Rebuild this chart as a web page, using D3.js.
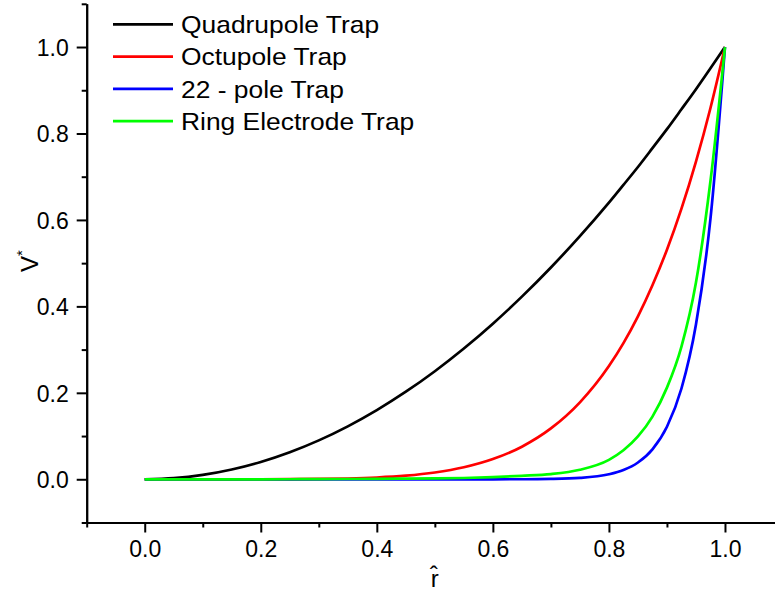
<!DOCTYPE html>
<html>
<head>
<meta charset="utf-8">
<script src="https://cdn.jsdelivr.net/npm/d3@7"></script>
<style>
    body { margin: 0; background: #fff; }
    svg { display: block; font-family: Arial, "Liberation Sans", sans-serif; }
    .axis path, .axis line { stroke: #000; stroke-width: 2; }
    .axis text { font-size: 23px; fill: #000; }
</style>
</head>
<body>
<div id="container"></div>
<script>
// normalised radius r-hat
const rValues = [0, 0.05, 0.1, 0.15, 0.2, 0.25, 0.3, 0.35, 0.4, 0.45, 0.5, 0.55, 0.6, 0.65, 0.7, 0.75, 0.8, 0.825, 0.85, 0.875, 0.9, 0.925, 0.95, 0.975, 1];

const quadrupole = [0, 0.0025, 0.01, 0.0225, 0.04, 0.0625, 0.09, 0.1225, 0.16, 0.2025, 0.25, 0.3025, 0.36, 0.4225, 0.49, 0.5625, 0.64, 0.681, 0.7225, 0.766, 0.81, 0.856, 0.9025, 0.951, 1];
const octupole = [0, 0, 0, 0, 0.0001, 0.0002, 0.0007, 0.0018, 0.0041, 0.0083, 0.0156, 0.0277, 0.0467, 0.0754, 0.1176, 0.178, 0.262, 0.315, 0.377, 0.449, 0.531, 0.626, 0.735, 0.859, 1];
const pole22 = [0, 0, 0, 0, 0, 0, 0, 0, 0, 0, 0, 0, 0, 0.0001, 0.0008, 0.0032, 0.0115, 0.0213, 0.0388, 0.0693, 0.1216, 0.21, 0.358, 0.603, 1];
const ringElectrode = [0, 0, 0, 0, 0, 0.0001, 0.0003, 0.0006, 0.001, 0.0015, 0.002, 0.003, 0.005, 0.008, 0.012, 0.022, 0.045, 0.067, 0.099, 0.145, 0.212, 0.307, 0.455, 0.69, 1];

const seriesNames = ['Quadrupole Trap', 'Octupole Trap', '22 - pole Trap', 'Ring Electrode Trap'];
const seriesColors = ['#000000', '#ff0000', '#0000ff', '#00ff00'];

const majorTicks = [0, 0.2, 0.4, 0.6, 0.8, 1.0];
const minorTicks = [-0.1, 0.1, 0.3, 0.5, 0.7, 0.9, 1.1];

const width = 775;
const height = 595;

const x = d3.scaleLinear().domain([-0.1, 1.1]).range([86.7, 783]);
const y = d3.scaleLinear().domain([-0.1, 1.1]).range([522.5, 3.8]);

const svg = d3.select('#container')
    .append('svg')
    .attr('width', width)
    .attr('height', height);

// x axis: major + minor ticks
const xAxis = svg.append('g')
    .attr('class', 'axis')
    .attr('transform', `translate(0,${y(-0.1)})`);
xAxis.call(d3.axisBottom(x).tickValues(majorTicks).tickSize(10).tickSizeOuter(0).tickPadding(8).tickFormat(d3.format('.1f')));
xAxis.selectAll('text').attr('dy', '0.71em');
svg.append('g')
    .attr('class', 'axis')
    .attr('transform', `translate(0,${y(-0.1)})`)
    .call(d3.axisBottom(x).tickValues(minorTicks).tickSize(5).tickSizeOuter(0).tickFormat(''));

// y axis
const yAxis = svg.append('g')
    .attr('class', 'axis')
    .attr('transform', `translate(${x(-0.1)},0)`);
yAxis.call(d3.axisLeft(y).tickValues(majorTicks).tickSize(10).tickSizeOuter(0).tickPadding(8).tickFormat(d3.format('.1f')));
yAxis.selectAll('text').attr('dy', '0.36em');
svg.append('g')
    .attr('class', 'axis')
    .attr('transform', `translate(${x(-0.1)},0)`)
    .call(d3.axisLeft(y).tickValues(minorTicks).tickSize(5).tickSizeOuter(0).tickFormat(''));

// curves
const allSeries = [quadrupole, octupole, pole22, ringElectrode];
const line = d3.line()
    .x((d, i) => x(rValues[i]))
    .y(d => y(d))
    .curve(d3.curveMonotoneX);

svg.append('g')
    .selectAll('path')
    .data(allSeries)
    .join('path')
    .attr('d', d => line(d))
    .attr('fill', 'none')
    .attr('stroke', (d, i) => seriesColors[i])
    .attr('stroke-width', 2.7)
    .attr('stroke-linejoin', 'round');

// axis titles
svg.append('text')
    .attr('x', x(0.5))
    .attr('y', 587)
    .attr('text-anchor', 'middle')
    .attr('font-size', 24)
    .text('r\u0302');

const yTitle = svg.append('text')
    .attr('transform', `translate(38,${y(0.5) - 2}) rotate(-90)`)
    .attr('text-anchor', 'middle')
    .attr('font-size', 24);
yTitle.append('tspan').text('V');
yTitle.append('tspan').attr('dy', -11).attr('font-size', 15).text('*');

// legend
const legend = svg.append('g')
    .attr('transform', 'translate(113,24.3)')
    .selectAll('g')
    .data(seriesNames)
    .join('g')
    .attr('transform', (d, i) => `translate(0,${i * 32.3})`);

legend.append('line')
    .attr('x1', 0)
    .attr('x2', 60)
    .attr('stroke', (d, i) => seriesColors[i])
    .attr('stroke-width', 2.7);

legend.append('text')
    .attr('transform', 'translate(68,8.8) scale(1.1,1)')
    .attr('font-size', 24)
    .text(d => d);
</script>
</body>
</html>
